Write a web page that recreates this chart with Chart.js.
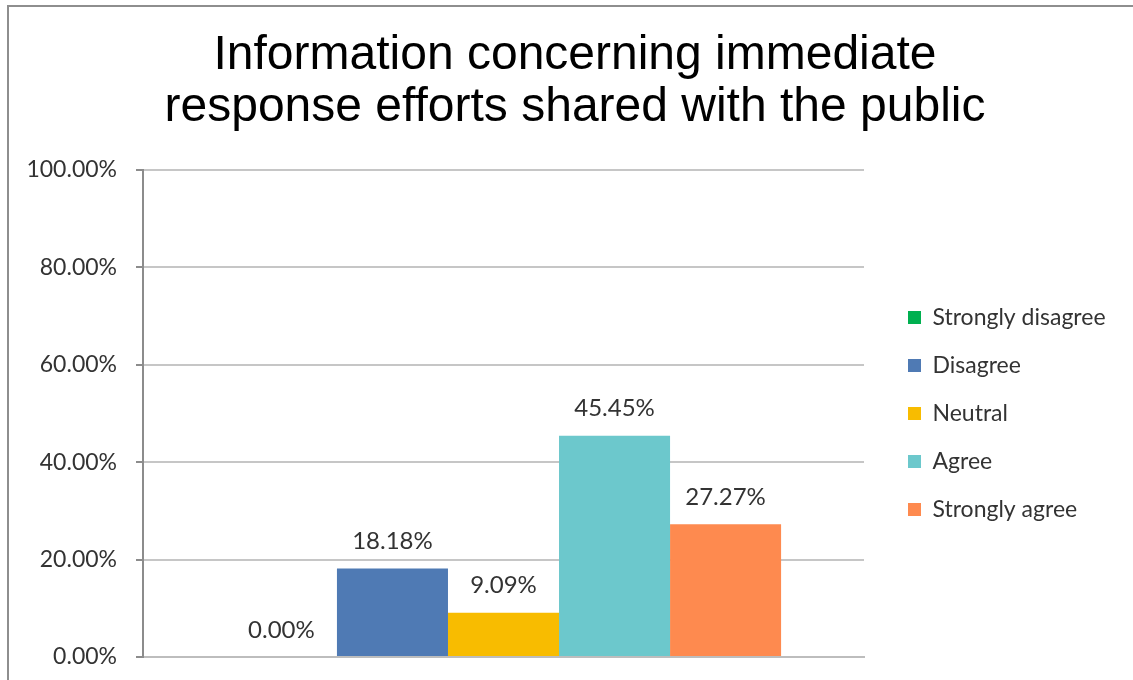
<!DOCTYPE html>
<html>
<head>
<meta charset="utf-8">
<script src="https://cdn.jsdelivr.net/npm/chart.js@4.4.1/dist/chart.umd.min.js"></script>
<style>
  html, body { margin: 0; padding: 0; background: #ffffff; overflow: hidden; width: 1133px; height: 680px; }
  #frame { position: absolute; left: 7px; top: 5px; width: 1132px; height: 700px; border-left: 2px solid #8e8e8e; border-top: 2px solid #8e8e8e; background: #fff; }
  #wrap { position: absolute; left: 0; top: 0; width: 1132px; height: 700px; }
</style>
</head>
<body>
<div id="frame"><div id="wrap"><canvas id="c"></canvas></div></div>
<script>
const titleLines = ['Information concerning immediate', 'response efforts shared with the public'];
const categories = [''];
const seriesNames = ['Strongly disagree', 'Disagree', 'Neutral', 'Agree', 'Strongly agree'];
const seriesValues = [[0.00], [18.18], [9.09], [45.45], [27.27]];
const seriesColors = ['#00B050', '#4F7AB4', '#F8BC00', '#6CC8CC', '#FE8A4F'];
const yTicks = [0, 20, 40, 60, 80, 100];

const smallFont = { family: 'Lato', size: 23 };
const textColor = '#333333';

const dataLabelPlugin = {
  id: 'dataLabels',
  afterDatasetsDraw(chart) {
    const ctx = chart.ctx;
    ctx.save();
    ctx.font = '24px Lato';
    ctx.fillStyle = textColor;
    ctx.textAlign = 'center';
    ctx.textBaseline = 'middle';
    chart.data.datasets.forEach((ds, i) => {
      const meta = chart.getDatasetMeta(i);
      meta.data.forEach((el, j) => {
        ctx.fillText(ds.data[j].toFixed(2) + '%', el.x, el.y - 27);
      });
    });
    ctx.restore();
  }
};

// widen the legend box so it sits where the reference places it
const legendWidthPlugin = {
  id: 'legendWidth',
  beforeLayout(chart) {
    const lg = chart.legend;
    if (lg && !lg._widthPatched) {
      const orig = lg.fit.bind(lg);
      lg.fit = function () { orig(); this.width = 258; };
      lg._widthPatched = true;
    }
  }
};

new Chart(document.getElementById('c'), {
  type: 'bar',
  data: {
    labels: categories,
    datasets: seriesNames.map((name, i) => ({
      label: name,
      data: seriesValues[i],
      backgroundColor: seriesColors[i],
      borderWidth: 0,
      categoryPercentage: 0.77,
      barPercentage: 1.0
    }))
  },
  options: {
    responsive: true,
    maintainAspectRatio: false,
    animation: false,
    layout: { padding: { left: 0, right: 0, top: 0, bottom: 49 } },
    plugins: {
      title: {
        display: true,
        text: titleLines,
        color: '#000000',
        font: { family: 'Liberation Sans', size: 48, weight: 'normal', lineHeight: 1.083 },
        padding: { top: 23, bottom: 36 }
      },
      legend: {
        display: true,
        position: 'right',
        fullSize: false,
        labels: {
          boxWidth: 13,
          boxHeight: 13,
          padding: 25,
          color: textColor,
          font: smallFont
        }
      },
      tooltip: { enabled: false }
    },
    scales: {
      x: {
        grid: { display: false },
        border: { display: true, color: '#BDBDBD', width: 2 },
        ticks: { display: false },
        afterFit(s) { s.height = 1; }
      },
      y: {
        min: 0,
        max: 100,
        afterBuildTicks(s) { s.ticks = yTicks.map(v => ({ value: v })); },
        ticks: {
          color: textColor,
          font: smallFont,
          padding: 19,
          callback: v => v.toFixed(2) + '%'
        },
        grid: { color: '#C6C6C6', lineWidth: 2, tickLength: 7, tickColor: '#8C8C8C', tickWidth: 2 },
        border: { display: true, color: '#8C8C8C', width: 2 },
        afterFit(s) { s.width = 134; }
      },
      yRightGap: {
        position: 'right',
        display: true,
        grid: { display: false, drawTicks: false },
        border: { display: false },
        ticks: { display: false },
        afterFit(s) { s.width = 19; }
      }
    }
  },
  plugins: [dataLabelPlugin, legendWidthPlugin]
});
</script>
</body>
</html>
